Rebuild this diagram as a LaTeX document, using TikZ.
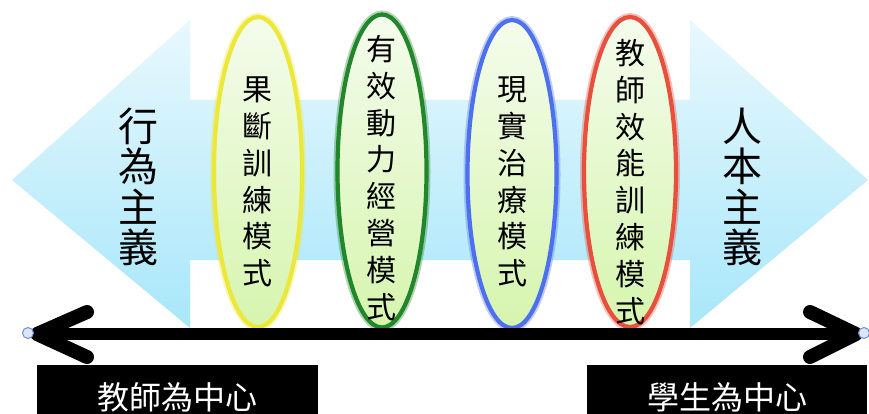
\documentclass[tikz,border=0pt]{standalone}
\usepackage{fontspec}
\newfontfamily\cjk{Noto Sans CJK TC}
\usetikzlibrary{shapes.geometric}
\definecolor{arrTop}{HTML}{E8F8FE}
\definecolor{arrBot}{HTML}{A8E7FA}
\definecolor{ellTop}{HTML}{F4FCEC}
\definecolor{ellBot}{HTML}{D6F5AE}
\definecolor{ringY}{HTML}{ECE83A}
\definecolor{ringG}{HTML}{22862A}
\definecolor{ringB}{HTML}{4C70EE}
\definecolor{ringR}{HTML}{E84F3C}
\definecolor{tipBlue}{HTML}{6F8FD8}
\definecolor{tipFill}{HTML}{DDE6F8}
\tikzset{
  modelring/.style={ellipse, inner sep=0pt, top color=ellTop, bottom color=ellBot,
    draw=#1, line width=4.2pt, preaction={draw=#1, draw opacity=.35, line width=8pt}},
  ringtext/.style={font=\cjk\fontsize{30}{36.8}\selectfont, align=center, inner sep=0pt},
  bigtext/.style={font=\cjk\fontsize{40}{40.5}\selectfont, align=center, inner sep=0pt},
  boxtext/.style={font=\cjk\fontsize{32}{32}\selectfont, text=white, inner sep=0pt},
  blackbox/.style={fill=black, draw=none, inner sep=0pt, anchor=north west,
    minimum width=281pt, minimum height=60pt},
  axisline/.style={line width=12pt},
  chevron/.style={line width=14pt, line cap=round, line join=round},
  tipdot/.style={circle, draw=tipBlue, fill=tipFill, line width=1pt, minimum size=11pt, inner sep=0pt}
}
\begin{document}
\begin{tikzpicture}[x=1pt,y=-1pt]
\useasboundingbox (0,0) rectangle (869,414);
\fill[white] (0,0) rectangle (869,414);
% big double arrow
\path[top color=arrTop, bottom color=arrBot]
  (12,180) -- (190,20) -- (190,100) -- (690,100) -- (690,20) -- (868,180)
  -- (690,328) -- (690,260) -- (190,260) -- (190,328) -- cycle;
\node[bigtext] (beh) at (138,187) {行\\為\\主\\義};
\node[bigtext] (hum) at (742,187) {人\\本\\主\\義};
% ellipses
\node[modelring=ringY, minimum width=88pt, minimum height=310pt] (e1) at (258,172) {};
\node[modelring=ringG, minimum width=89pt, minimum height=313pt] (e2) at (382,171) {};
\node[modelring=ringB, minimum width=89pt, minimum height=308pt] (e3) at (512,174) {};
\node[modelring=ringR, minimum width=92pt, minimum height=310pt] (e4) at (630,172) {};
\node[ringtext] (t1) at (257,182) {果\\斷\\訓\\練\\模\\式};
\node[ringtext] (t2) at (381,178) {有\\效\\動\\力\\經\\營\\模\\式};
\node[ringtext] (t3) at (512,182) {現\\實\\治\\療\\模\\式};
\node[ringtext] (t4) at (630,182) {教\\師\\效\\能\\訓\\練\\模\\式};
% axis double arrow
\coordinate (lv) at (37,334);
\coordinate (rv) at (856,334);
\coordinate (lu) at (87,312);
\coordinate (ld) at (87,357);
\coordinate (ru) at (810,312);
\coordinate (rd) at (810,357);
\draw[axisline] (lv) -- (rv);
\draw[chevron] (lu) -- (lv) -- (ld);
\draw[chevron] (ru) -- (rv) -- (rd);
\node[tipdot] (lend) at (28,333) {};
\node[tipdot] (rend) at (864,333) {};
% bottom boxes
\node[blackbox] (lbox) at (37,365) {};
\node[blackbox, minimum width=280pt] (rbox) at (587,365) {};
\node[boxtext] (ltext) at (177,397) {教師為中心};
\node[boxtext] (rtext) at (727,397) {學生為中心};
\end{tikzpicture}
\end{document}
